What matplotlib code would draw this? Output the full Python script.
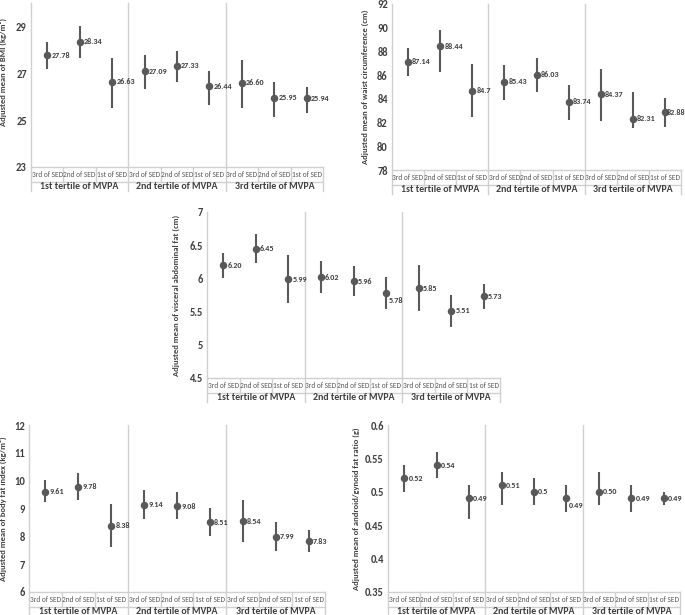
import matplotlib
matplotlib.use("Agg")
import matplotlib.pyplot as plt
import numpy as np
from matplotlib import font_manager as fm
from matplotlib.transforms import blended_transform_factory

_avail = {f.name for f in fm.fontManager.ttflist}
_fams = [f for f in ['Carlito', 'Lato', 'Open Sans'] if f in _avail] + ['DejaVu Sans']
plt.rcParams['font.family'] = _fams

# ---------------- data ----------------
sed_labels = ["3rd of SED", "2nd of SED", "1st of SED"] * 3
mvpa_labels = ["1st tertile of MVPA", "2nd tertile of MVPA", "3rd tertile of MVPA"]

bmi_mean = [27.78, 28.34, 26.63, 27.09, 27.33, 26.44, 26.60, 25.95, 25.94]
bmi_low = [27.17, 27.65, 25.52, 26.34, 26.61, 25.66, 25.52, 25.13, 25.30]
bmi_high = [28.32, 29.00, 27.65, 27.78, 27.96, 27.10, 27.58, 26.63, 26.42]
bmi_text = ["27.78", "28.34", "26.63", "27.09", "27.33", "26.44", "26.60", "25.95", "25.94"]
bmi_ticks = [23, 25, 27, 29]

waist_mean = [87.14, 88.44, 84.70, 85.43, 86.03, 83.74, 84.37, 82.31, 82.88]
waist_low = [85.89, 86.23, 82.45, 83.92, 84.54, 82.23, 82.17, 81.52, 81.66]
waist_high = [88.28, 89.83, 86.96, 86.87, 87.44, 85.18, 86.51, 84.59, 84.06]
waist_text = ["87.14", "88.44", "84.7", "85.43", "86.03", "83.74", "84.37", "82.31", "82.88"]
waist_ticks = [78, 80, 82, 84, 86, 88, 90, 92]

vat_mean = [6.20, 6.45, 5.99, 6.02, 5.96, 5.78, 5.85, 5.51, 5.73]
vat_low = [6.00, 6.235, 5.635, 5.78, 5.74, 5.54, 5.51, 5.27, 5.54]
vat_high = [6.39, 6.675, 6.35, 6.26, 6.185, 6.02, 6.195, 5.755, 5.915]
vat_text = ["6.20", "6.45", "5.99", "6.02", "5.96", "5.78", "5.85", "5.51", "5.73"]
vat_ticks = [4.5, 5, 5.5, 6, 6.5, 7]
vat_ticklabels = ["4.5", "5", "5.5", "6", "6.5", "7"]

bfi_mean = [9.61, 9.78, 8.38, 9.14, 9.08, 8.51, 8.54, 7.99, 7.83]
bfi_low = [9.22, 9.32, 7.62, 8.64, 8.62, 8.02, 7.80, 7.49, 7.44]
bfi_high = [10.02, 10.28, 9.16, 9.66, 9.58, 9.02, 9.30, 8.52, 8.24]
bfi_text = ["9.61", "9.78", "8.38", "9.14", "9.08", "8.51", "8.54", "7.99", "7.83"]
bfi_ticks = [6, 7, 8, 9, 10, 11, 12]

agr_mean = [0.52, 0.54, 0.49, 0.51, 0.50, 0.49, 0.50, 0.49, 0.49]
agr_low = [0.50, 0.52, 0.46, 0.48, 0.48, 0.47, 0.48, 0.47, 0.48]
agr_high = [0.54, 0.56, 0.51, 0.53, 0.52, 0.51, 0.53, 0.51, 0.50]
agr_text = ["0.52", "0.54", "0.49", "0.51", "0.5", "0.49", "0.50", "0.49", "0.49"]
agr_ticks = [0.35, 0.40, 0.45, 0.50, 0.55, 0.60]
agr_ticklabels = ["0.35", "0.4", "0.45", "0.5", "0.55", "0.6"]

# ---------------- layout / style ----------------
W, H, DPI = 685, 615, 100
fig = plt.figure(figsize=(W / DPI, H / DPI), dpi=DPI)

PT_COLOR = "#595959"
LINE_COLOR = "#d0d0d0"
TEXT_COLOR = "#404040"


def panel(rect_px, ylim, ticks, ticklabels, ylabel, ylabel_px_x, ylabel_frac_y,
          mean, low, high, texts, label_offsets):
    l, t, r, b = rect_px
    w_px, h_px = r - l, b - t
    ax = fig.add_axes([l / W, 1 - b / H, w_px / W, h_px / H])
    n = len(mean)
    x = np.arange(n)
    mean = np.asarray(mean)
    yerr = [mean - np.asarray(low), np.asarray(high) - mean]
    ax.errorbar(x, mean, yerr=yerr, fmt='o', color=PT_COLOR, ms=4.4,
                elinewidth=1.5, capsize=0, zorder=3, clip_on=False)
    for i, (xi, yi, s) in enumerate(zip(x, mean, texts)):
        dx, dy = label_offsets.get(i, (3.0, 0))
        ax.annotate(s, (xi, yi), xytext=(dx, dy), textcoords='offset points',
                    ha='left', va='center', fontsize=5.9, fontweight='bold',
                    color=TEXT_COLOR, annotation_clip=False, zorder=4)
    ax.set_xlim(-0.5, n - 0.5)
    ax.set_ylim(*ylim)
    ax.set_yticks(ticks)
    ax.set_yticklabels(ticklabels, fontsize=7.6, fontweight='bold', color=TEXT_COLOR)
    ax.tick_params(axis='y', length=0, pad=3)
    ax.set_xticks([])
    for s in ax.spines.values():
        s.set_visible(False)
    ax.set_ylabel(ylabel, fontsize=6.1, fontweight='bold', color=TEXT_COLOR)
    ax.yaxis.set_label_coords((ylabel_px_x - l) / w_px, ylabel_frac_y)

    tr = blended_transform_factory(ax.transData, ax.transAxes)
    row1 = -15 / h_px
    row2 = -24 / h_px
    kw = dict(color=LINE_COLOR, lw=1, transform=tr, clip_on=False, zorder=1)
    for xv in [-0.5, 2.5, 5.5]:
        ax.plot([xv, xv], [1, row2], **kw)
    ax.plot([n - 0.5, n - 0.5], [0, row2], **kw)
    ax.plot([-0.5, n - 0.5], [0, 0], **kw)
    ax.plot([-0.5, n - 0.5], [row1, row1], **kw)
    for xv in [0.5, 1.5, 3.5, 4.5, 6.5, 7.5]:
        ax.plot([xv, xv], [0, row1], **kw)
    for xi, s in zip(x, sed_labels):
        ax.text(xi, -7.5 / h_px, s, transform=tr, ha='center', va='center',
                fontsize=5.3, color=PT_COLOR)
    for g, s in enumerate(mvpa_labels):
        ax.text(3 * g + 1, -19.5 / h_px, s, transform=tr, ha='center', va='center',
                fontsize=7.1, fontweight='bold', color=TEXT_COLOR)
    return ax


panel((31, 3, 323, 167), (23, 30), bmi_ticks, [str(v) for v in bmi_ticks],
      "Adjusted mean of BMI (kg/m²)", 7, 0.58,
      bmi_mean, bmi_low, bmi_high, bmi_text, {})

panel((392, 4, 681, 170), (78, 92), waist_ticks, [str(v) for v in waist_ticks],
      "Adjusted mean of waist circumference (cm)", 369, 0.5,
      waist_mean, waist_low, waist_high, waist_text, {8: (1.0, 0)})

panel((207, 212, 500, 378), (4.5, 7), vat_ticks, vat_ticklabels,
      "Adjusted mean of visceral abdominal fat (cm)", 180, 0.5,
      vat_mean, vat_low, vat_high, vat_text, {5: (2, -5.5)})

panel((29, 425, 325, 592), (6, 12), bfi_ticks, [str(v) for v in bfi_ticks],
      "Adjusted mean of body fat index (kg/m²)", 7, 0.5,
      bfi_mean, bfi_low, bfi_high, bfi_text, {})

panel((388, 425, 680, 592), (0.35, 0.6), agr_ticks, agr_ticklabels,
      "Adjusted mean of android/gynoid fat ratio (g)", 360, 0.5,
      agr_mean, agr_low, agr_high, agr_text, {5: (2, -5)})

fig.savefig("out.png", dpi=DPI)
